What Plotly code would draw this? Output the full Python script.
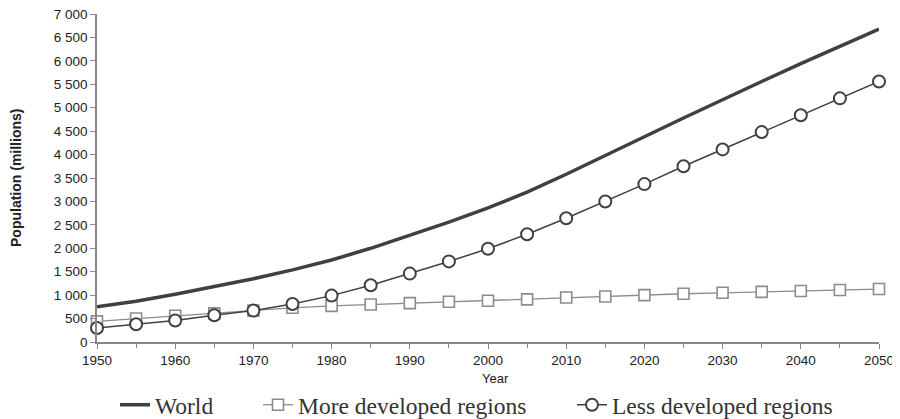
import plotly.graph_objects as go

years = list(range(1950, 2051, 5))
world = [750, 870, 1020, 1180, 1350, 1540, 1750, 2000, 2280, 2560, 2860, 3200, 3580, 3970, 4380, 4780, 5180, 5560, 5940, 6310, 6680]
more_dev = [440, 500, 560, 610, 670, 730, 770, 800, 830, 860, 880, 910, 950, 970, 1000, 1030, 1050, 1070, 1090, 1110, 1130]
less_dev = [300, 380, 460, 570, 670, 810, 990, 1210, 1460, 1720, 1990, 2300, 2640, 3000, 3370, 3750, 4110, 4480, 4840, 5200, 5560]

y_tickvals = list(range(0, 7001, 500))
y_ticktext = ["0", "500", "1 000", "1 500", "2 000", "2 500", "3 000", "3 500", "4 000", "4 500",
              "5 000", "5 500", "6 000", "6 500", "7 000"]
x_tickvals = list(range(1950, 2051, 10))

W, H = 892, 411

fig = go.Figure()
fig.add_trace(go.Scatter(x=years, y=world, name="World", mode="lines", legend="legend",
                         line=dict(color="#404040", width=3.5), cliponaxis=False))
fig.add_trace(go.Scatter(x=years, y=more_dev, name="More developed regions", mode="lines+markers",
                         legend="legend2",
                         line=dict(color="#8c8c8c", width=1.3),
                         marker=dict(symbol="square", size=11, color="white",
                                     line=dict(color="#8c8c8c", width=1.6)), cliponaxis=False))
fig.add_trace(go.Scatter(x=years, y=less_dev, name="Less developed regions", mode="lines+markers",
                         legend="legend3",
                         line=dict(color="#404040", width=1.5),
                         marker=dict(symbol="circle", size=12, color="white",
                                     line=dict(color="#404040", width=2)), cliponaxis=False))

leg_common = dict(orientation="h", xref="container", yref="paper", xanchor="left",
                  y=-0.192, yanchor="middle", itemwidth=30, bgcolor="rgba(0,0,0,0)",
                  font=dict(family="Liberation Serif, Times New Roman, serif", size=23.5, color="#333333"))

fig.update_layout(
    width=W, height=H,
    margin=dict(l=89, r=21, t=6, b=77, autoexpand=False),
    plot_bgcolor="white", paper_bgcolor="white",
    font=dict(family="Liberation Sans, Arial, sans-serif", size=13, color="#222222"),
    showlegend=True,
    legend=dict(x=(137 - 8 - 22) / W, **leg_common),
    legend2=dict(x=(270 - 8 - 12) / W, **leg_common),
    legend3=dict(x=(582 - 8 - 10) / W, **leg_common),
    annotations=[
        dict(text="Year", xref="paper", yref="paper", x=0.51, y=-0.11,
             xanchor="center", yanchor="middle", showarrow=False,
             font=dict(size=13, color="#222222")),
        dict(text="<b>Population (millions)</b>", xref="paper", yref="paper", x=-0.1036, y=0.5,
             xanchor="center", yanchor="middle", showarrow=False, textangle=-90,
             font=dict(family="Liberation Sans Narrow, Arial Narrow, Liberation Sans", size=14,
                       color="#222222")),
    ],
)
fig.update_xaxes(range=[1950, 2050], tickvals=x_tickvals, ticks="outside", ticklen=5,
                 tickcolor="#888888", showline=True, linecolor="#888888", linewidth=1.5,
                 showgrid=False, zeroline=False, ticklabeloverflow="allow",
                 minor=dict(dtick=5, tick0=1950, ticks="outside", ticklen=4, tickcolor="#888888"),
                 tickfont=dict(size=13.5))
fig.update_yaxes(range=[0, 7000], tickvals=y_tickvals, ticktext=y_ticktext, ticks="outside", ticklen=5,
                 tickcolor="#888888", showline=True, linecolor="#888888", linewidth=1.5,
                 showgrid=False, zeroline=False, ticklabeloverflow="allow",
                 tickfont=dict(size=13.5))

fig.write_html("out.html")
